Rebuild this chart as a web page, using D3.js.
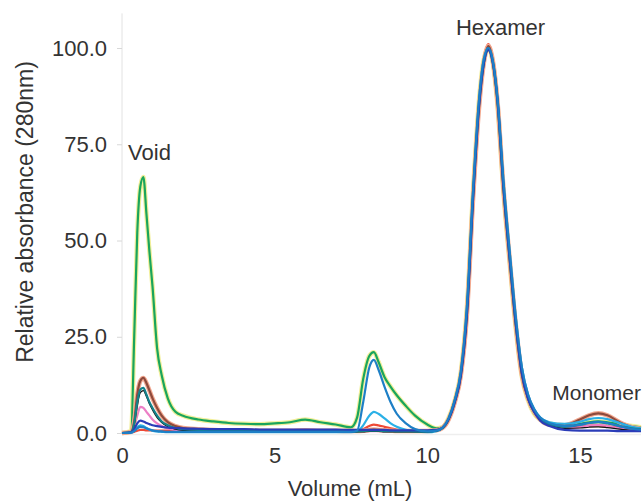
<!DOCTYPE html>
<html><head><meta charset="utf-8">
<script src="https://cdn.jsdelivr.net/npm/d3@7"></script>
<style>body{margin:0;background:#fff}svg{display:block}text{font-family:"Liberation Sans",Arial,sans-serif;fill:#333}</style>
</head><body><svg id="c" width="644" height="501"></svg>
<script>
const volume = [0,0.3,0.4,0.5,0.6,0.7,0.8,0.9,1.0,1.15,1.3,1.5,1.75,2.0,
 2.5,3.0,3.5,4.0,4.5,5.0,5.5,6.0,6.5,7.0,7.5,
 7.7,7.9,8.1,8.25,8.4,8.6,8.8,9.0,9.3,9.6,10.0,
 10.3,10.5,10.7,10.9,11.1,11.3,11.5,11.7,11.85,12.0,
 12.15,12.3,12.5,12.7,12.9,13.1,13.3,13.5,13.7,14.0,
 14.5,15.0,15.3,15.6,15.9,16.3,16.7,17.0];

const green = [0,0.5,25,52,64,66.5,57,47,38,22,15,9,5.5,4.5,
 3.5,3,2.6,2.4,2.3,2.5,2.8,3.5,2.8,2.2,1.5,
 4,14,20,21,18.5,14.5,12,9.8,7,4.5,2.2,
 1.2,1.5,4,8.5,16,33,63,87,97,100,
 96,85,62,44,27,14.5,8.5,5,3.5,2.5,
 2,2.3,2.8,3,2.8,2.3,1.8,1.5];
const brown = [0,0.3,3,10,13.5,14.3,13,11,9,6.5,4.5,2.8,1.8,1.3,
 1,0.8,0.7,0.7,0.6,0.6,0.6,0.7,0.6,0.6,0.5,
 0.5,0.6,0.8,0.9,0.8,0.7,0.6,0.5,0.5,0.5,0.5,
 0.7,1.3,3.5,8,15,31,61,85,96,100.5,
 96.5,86,63,45,28,15,9,5.5,3.5,2.2,
 2,3.5,4.6,5.1,4.6,2.8,1.5,1.1];
const teal = [0,0.2,2.5,8,11.3,11.7,10,8,6.5,4.5,3,2,1.3,1,
 0.8,0.6,0.5,0.5,0.5,0.5,0.5,0.5,0.5,0.5,0.4,
 0.4,0.5,0.6,0.6,0.6,0.5,0.5,0.4,0.4,0.4,0.4,
 0.6,1.3,3.8,8.5,15.5,32,62,86,96,99.5,
 96,86,63,45,28,15.5,9,5.5,3.5,2.2,
 1.6,2.2,2.6,2.8,2.5,1.8,1.2,1];
const black = [0,0.2,2,7,10.5,11,9.5,7.5,6,4,2.7,1.6,1,0.7,
 0.5,0.4,0.3,0.3,0.3,0.3,0.3,0.3,0.3,0.3,0.3,
 0.3,0.3,0.4,0.4,0.4,0.3,0.3,0.3,0.3,0.3,0.3,
 0.5,1.2,3.5,8,15,31,61,85.5,96,100,
 96.5,87,64,46,29,16,9.5,6,3.8,2.3,
 1.2,1.3,1.5,1.6,1.4,1.0,0.7,0.6];
const pink = [0,0.2,1.5,4.5,6.8,6.5,5.5,4.5,3.5,2.5,1.8,1.2,0.8,0.6,
 0.5,0.4,0.4,0.4,0.4,0.4,0.4,0.4,0.4,0.4,0.4,
 0.4,0.4,0.5,0.5,0.5,0.4,0.4,0.4,0.4,0.4,0.4,
 0.6,1.4,3.8,8,15,31.5,62,86,96,100,
 96,86,63,45,28,15,9,5.5,3.4,2.1,
 1.2,1.5,1.9,2.1,1.8,1.2,0.8,0.6];
const blue = [0,0.2,1,2.5,3.2,3,2.6,2.3,2,1.8,1.6,1.4,1.3,1.2,
 1.1,1,1,1,0.9,0.9,0.9,0.9,0.9,0.9,0.8,
 0.8,0.8,0.8,0.8,0.8,0.8,0.7,0.7,0.7,0.7,0.7,
 0.8,1.4,3.6,8,15,31,61,85.5,96,99.5,
 96,86.5,63.5,45.5,28.5,15.5,9,5.5,3.2,1.8,
 0.8,0.6,0.6,0.6,0.6,0.5,0.5,0.5];
const cyan = [0,0.1,0.6,1.5,2,1.8,1.3,0.9,0.6,0.4,0.3,0.2,0.2,0.2,
 0.2,0.2,0.2,0.2,0.2,0.2,0.2,0.2,0.2,0.2,0.2,
 0.4,2,4.5,5.5,5,3.8,2.5,1.6,0.8,0.4,0.2,
 0.5,1.3,3.8,8.5,16,33,63,87,97,100,
 96.5,87,65,47,30,17,10,6.2,4,2.8,
 2.4,2.9,3.6,3.9,3.6,2.6,1.6,1.2];
const steel = [0,0.1,0.5,1.2,1.6,1.5,1.2,0.9,0.7,0.5,0.4,0.3,0.3,0.3,
 0.3,0.3,0.3,0.3,0.3,0.3,0.3,0.3,0.3,0.3,0.3,
 0.6,8,17,19,16.5,12,8,5,2.5,1,0.4,
 0.6,1.4,3.8,8.5,16,33,63,87,97,100,
 96.5,87,65,47,30,17,10,6.2,4,2.6,
 1.8,2.1,2.6,2.9,2.6,1.8,1.1,0.9];
const red = [0,0.1,0.3,0.6,0.8,0.8,0.7,0.7,0.6,0.6,0.6,0.6,0.6,0.6,
 0.6,0.7,0.7,0.7,0.6,0.6,0.6,0.7,0.6,0.5,0.5,
 0.6,1,1.8,2.2,2,1.6,1.2,0.9,0.6,0.5,0.4,
 0.8,1.6,4,8.5,16,32,62.5,86.5,97,101,
 97,86,63,45,28,15,9,5.5,3.4,2.2,
 1.4,1.6,1.9,2,1.8,1.3,0.9,0.8];

const xTicks = [0,5,10,15];
const yTicks = [0,25,50,75,100];
const peakLabels = [
 {t:"Void",x:0.9,y:71,anchor:"middle",size:22},
 {t:"Hexamer",x:12.4,y:103.5,anchor:"middle",size:22},
 {t:"Monomer",x:17.0,y:8.6,anchor:"end",size:21}
];

const series = [
 {v:green, c:"#1aa55c", halo:"#f2ef9a"},
 {v:red, c:"#ee4a36"},
 {v:pink, c:"#ec7fc6"},
 {v:brown, c:"#8e4a3c", halo:"#f2a890"},
 {v:cyan, c:"#2ab0e6"},
 {v:black, c:"#111111", w:1.2},
 {v:teal, c:"#14828a"},
 {v:blue, c:"#2b3cb8"},
 {v:steel, c:"#1e7fc6"}
];

const svg = d3.select("#c");
const x = d3.scaleLinear().domain([0,17]).range([122,641]);
const y = d3.scaleLinear().domain([0,100]).range([433,48]);

svg.append("line").attr("x1",x(0)).attr("x2",x(0)).attr("y1",y(109)).attr("y2",y(0)).attr("stroke","#e2e2e2").attr("stroke-width",1);
svg.append("line").attr("x1",x(0)).attr("x2",x(17)).attr("y1",y(0)+1.5).attr("y2",y(0)+1.5).attr("stroke","#eeeeee").attr("stroke-width",1.5);

const yAxis = d3.axisLeft(y).tickValues(yTicks).tickFormat(d3.format(".1f")).tickSize(5).tickPadding(10);
const ga = svg.append("g").attr("transform",`translate(${x(0)},0)`).call(yAxis);
ga.select(".domain").remove();
ga.selectAll("line").attr("stroke","#d8d8d8");
ga.selectAll("text").style("font-size","22px").attr("fill","#333");

const xAxis = d3.axisBottom(x).tickValues(xTicks).tickFormat(d3.format("d")).tickSize(0).tickPadding(14);
const gx = svg.append("g").attr("transform",`translate(0,${y(0)})`).call(xAxis);
gx.select(".domain").remove();
gx.selectAll("text").style("font-size","22px").attr("fill","#333");

const line = d3.line().x((d,i)=>x(volume[i])).y(d=>y(d)).curve(d3.curveMonotoneX);

series.forEach(s=>{
  if(s.halo) svg.append("path").attr("d",line(s.v)).attr("fill","none").attr("stroke",s.halo).attr("stroke-width",4.5).attr("stroke-linejoin","round");
  svg.append("path").attr("d",line(s.v)).attr("fill","none").attr("stroke",s.c).attr("stroke-width",s.w||2.2).attr("stroke-linejoin","round");
});

peakLabels.forEach(p=>{
  svg.append("text").attr("x",x(p.x)).attr("y",y(p.y)).attr("text-anchor",p.anchor).style("font-size",p.size+"px").text(p.t);
});

svg.append("text").attr("transform","translate(33,212) rotate(-90)").attr("text-anchor","middle").style("font-size","23px").text("Relative absorbance (280nm)");
svg.append("text").attr("x",350).attr("y",496).attr("text-anchor","middle").style("font-size","22px").text("Volume (mL)");
</script></body></html>
